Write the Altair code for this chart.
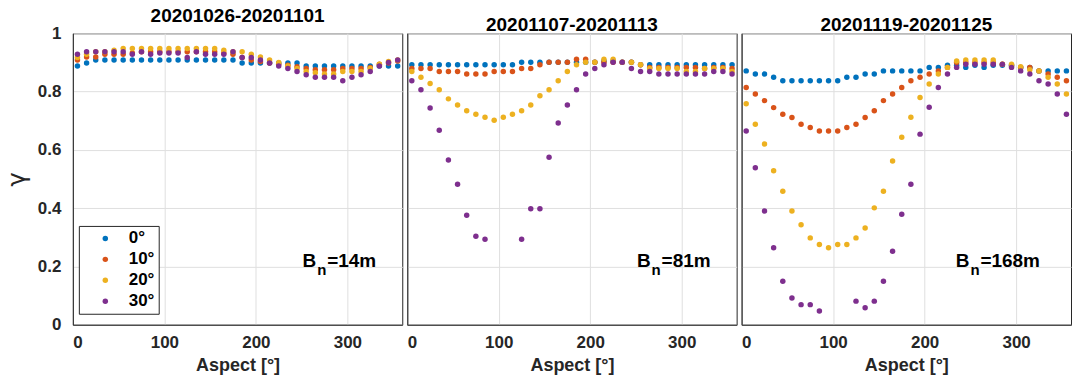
import altair as alt
import pandas as pd

aspect = [5 + 10 * i for i in range(36)]
series_names = ["0°", "10°", "20°", "30°"]
colors = ["#0072BD", "#D95319", "#EDB120", "#7E2F8E"]
titles = ["20201026-20201101", "20201107-20201113", "20201119-20201125"]
baselines = ["=14m", "=81m", "=168m"]
ann_x = [266, 266, 249]
ann_y = [0.197, 0.197, 0.197]

N = None
p1_0 = [0.888, 0.898] + [0.908] * 16 + [0.898] * 7 + [0.888] * 11
p1_10 = [0.908, 0.919, 0.919, 0.928, 0.928, 0.928, 0.932, 0.937, 0.937, 0.937, 0.937, 0.937,
         0.937, 0.937, 0.937, 0.937, 0.932, 0.928, 0.917, 0.908, 0.903, 0.898, 0.894, 0.890,
         0.885, 0.879, 0.875, 0.875, 0.875, 0.879, 0.879, 0.879, 0.883, 0.894, 0.898, 0.905]
p1_20 = [0.917, 0.928, 0.937, 0.937, 0.942, 0.948, 0.948, 0.948, 0.948, 0.948, 0.948, 0.948,
         0.948, 0.948, 0.948, 0.948, 0.942, 0.937, 0.937, 0.928, 0.919, 0.908, 0.900, 0.888,
         0.879, 0.869, 0.865, 0.860, 0.860, 0.869, 0.869, 0.869, 0.879, 0.894, 0.903, 0.908]
p1_30 = [0.928, 0.937, 0.937, 0.937, 0.937, 0.937, 0.928, 0.937, 0.928, 0.932, 0.932, 0.932,
         0.917, 0.937, 0.928, 0.928, 0.928, 0.937, 0.917, 0.917, 0.908, 0.898, 0.888, 0.879,
         0.869, 0.858, 0.849, 0.849, 0.849, 0.837, 0.849, 0.858, 0.869, 0.888, 0.900, 0.908]

p2_0 = [0.892] * 12 + [0.901] * 9 + [0.905, 0.905, 0.901, 0.901] + [0.892] * 11
p2_10 = [0.879, 0.879, 0.879, 0.869, 0.869, 0.869, 0.860, 0.860, 0.860, 0.869, 0.869, 0.869,
         0.879, 0.879, 0.892, 0.901, 0.901, 0.901, 0.911, 0.911, 0.901, 0.901, 0.901, 0.901,
         0.901, 0.892, 0.883, 0.883, 0.883, 0.883, 0.883, 0.883, 0.879, 0.883, 0.883, 0.879]
p2_20 = [0.869, 0.849, 0.828, 0.806, 0.775, 0.754, 0.734, 0.722, 0.712, 0.702, 0.712, 0.722,
         0.734, 0.754, 0.786, 0.806, 0.837, 0.869, 0.892, 0.901, 0.901, 0.911, 0.911, 0.901,
         0.901, 0.892, 0.879, 0.879, 0.879, 0.879, 0.869, 0.869, 0.879, 0.879, 0.879, 0.869]
p2_30 = [0.837, 0.806, 0.744, 0.667, 0.565, 0.482, 0.376, 0.304, 0.293, N, N, N,
         0.293, 0.398, 0.398, 0.575, 0.692, 0.754, 0.806, 0.860, 0.879, 0.892, 0.901, 0.901,
         0.879, 0.869, 0.869, 0.860, 0.860, 0.860, 0.860, 0.860, 0.860, 0.869, 0.869, 0.860]

p3_0 = [0.871, 0.860, 0.860, 0.849, 0.837, 0.837, 0.837, 0.837, 0.837, 0.837, 0.837, 0.849,
        0.849, 0.860, 0.860, 0.871, 0.871, 0.871, 0.871, 0.871, 0.883, 0.883, 0.890, 0.890,
        0.883, 0.890, 0.883, 0.890, 0.890, 0.890, 0.883, 0.883, 0.871, 0.871, 0.871, 0.871]
p3_10 = [0.814, 0.792, 0.769, 0.745, 0.722, 0.711, 0.688, 0.677, 0.665, 0.665, 0.665, 0.677,
         0.688, 0.711, 0.734, 0.769, 0.792, 0.814, 0.837, 0.849, 0.860, 0.871, 0.883, 0.900,
         0.900, 0.900, 0.900, 0.900, 0.894, 0.888, 0.883, 0.883, 0.871, 0.860, 0.849, 0.837]
p3_20 = [0.758, 0.688, 0.620, 0.528, 0.458, 0.390, 0.343, 0.298, 0.275, 0.264, 0.275, 0.275,
         0.298, 0.332, 0.401, 0.458, 0.562, 0.643, 0.712, 0.780, 0.826, 0.860, 0.883, 0.905,
         0.908, 0.908, 0.908, 0.908, 0.894, 0.894, 0.885, 0.875, 0.871, 0.849, 0.826, 0.792]
p3_30 = [0.665, 0.539, 0.390, 0.264, 0.149, 0.092, 0.069, 0.069, 0.047, N, N, N,
         0.081, 0.058, 0.081, 0.149, 0.252, 0.379, 0.482, 0.654, 0.746, 0.814, 0.860, 0.883,
         0.894, 0.894, 0.894, 0.894, 0.894, 0.883, 0.871, 0.860, 0.837, 0.826, 0.792, 0.722]

panels = [[p1_0, p1_10, p1_20, p1_30], [p2_0, p2_10, p2_20, p2_30], [p3_0, p3_10, p3_20, p3_30]]

FONT = "Liberation Sans"
DARK = "#262626"


def make_panel(k):
    rows = []
    for s, vals in zip(series_names, panels[k]):
        for a, v in zip(aspect, vals):
            if v is not None:
                rows.append({"aspect": a, "series": s, "gamma": v})
    df = pd.DataFrame(rows)

    first = k == 0
    yaxis = alt.Axis(
        values=[0, 0.2, 0.4, 0.6, 0.8, 1.0], format=".1~f", labels=first,
        title="γ" if first else None, titleFontWeight="normal", titleFontSize=24,
        titleFont="DejaVu Sans", titlePadding=8, labelPadding=12, ticks=False,
    )
    if first:
        legend = alt.Legend(
            title=None, orient="none", legendX=6, legendY=193, strokeColor=DARK,
            fillColor="white", padding=4, labelFont=FONT, labelFontSize=17,
            labelFontWeight="bold", labelColor="black", symbolType="circle", symbolSize=30,
            symbolOffset=14, labelOffset=15, rowPadding=3, symbolStrokeWidth=0,
        )
    else:
        legend = None

    pts = alt.Chart(df).mark_circle(size=30, opacity=1).encode(
        x=alt.X("aspect:Q", scale=alt.Scale(domain=[0, 360], nice=False),
                axis=alt.Axis(values=[0, 100, 200, 300], title="Aspect [°]", ticks=False,
                              labelPadding=10, titlePadding=6)),
        y=alt.Y("gamma:Q", scale=alt.Scale(domain=[0, 1], nice=False), axis=yaxis),
        color=alt.Color("series:N", scale=alt.Scale(domain=series_names, range=colors),
                        sort=series_names, legend=legend),
    )

    ann = pd.DataFrame({"x": [ann_x[k]], "y": [ann_y[k]], "t": [baselines[k]]})
    base = alt.Chart(ann)
    b = base.mark_text(text="B", align="right", baseline="alphabetic", font=FONT,
                       fontSize=19, fontWeight="bold", color="black").encode(x="x:Q", y="y:Q")
    n = base.mark_text(text="n", align="left", baseline="alphabetic", font=FONT, dx=1, dy=8,
                       fontSize=15, fontWeight="bold", color="black").encode(x="x:Q", y="y:Q")
    rest = base.mark_text(align="left", baseline="alphabetic", font=FONT, dx=11,
                          fontSize=19, fontWeight="bold", color="black").encode(
        x="x:Q", y="y:Q", text="t:N")

    return alt.layer(pts, b, n, rest).properties(
        width=330, height=292,
        title=alt.TitleParams(titles[k], fontSize=19, fontWeight="bold", color="black",
                              font=FONT, offset=-2),
    )


chart = alt.hconcat(make_panel(0), make_panel(1), make_panel(2), spacing=3).resolve_scale(
    color="independent"
).properties(
    padding={"left": 4, "top": 6, "right": 2, "bottom": 0}, background="white"
).configure_view(stroke=DARK, strokeWidth=1).configure_axis(
    labelFont=FONT, labelFontSize=17, labelFontWeight="bold", labelColor=DARK,
    titleFont=FONT, titleFontSize=18, titleFontWeight="bold", titleColor=DARK,
    domainColor=DARK, gridColor="#dfdfdf", gridWidth=1,
)

chart.save("out.html", embed_options={"renderer": "svg", "actions": False})
